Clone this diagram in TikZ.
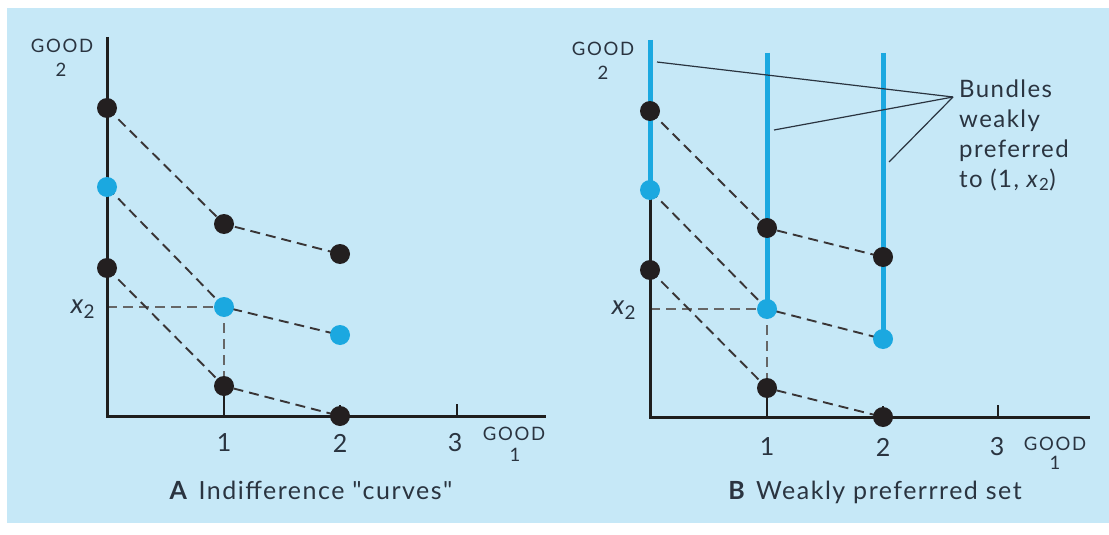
\documentclass[tikz,border=0pt]{standalone}
\usepackage{fontspec}
\setmainfont{Lato}
\newfontfamily\lsfont[LetterSpace=6]{Lato}
\newfontfamily\lsgfont[LetterSpace=9]{Lato}
\definecolor{bgblue}{HTML}{C6E8F7}
\definecolor{dotblue}{HTML}{1BA8E0}
\definecolor{dotblack}{HTML}{231F20}
\definecolor{inkdark}{HTML}{2A3440}
\definecolor{axisdark}{HTML}{1E1E1E}
\tikzset{
  bdot/.style={circle, fill=dotblack, inner sep=0pt, minimum size=20pt},
  cdot/.style={circle, fill=dotblue, inner sep=0pt, minimum size=20pt},
  axisline/.style={draw=axisdark, line width=3pt},
  tickline/.style={draw=axisdark, line width=1.3pt},
  dashline/.style={draw=dotblack!90, line width=1.9pt, dash pattern=on 10pt off 6pt},
  guideline/.style={draw=black!60, line width=1.9pt, dash pattern=on 10pt off 6pt},
  blueline/.style={draw=dotblue, line width=5pt},
  leader/.style={draw=inkdark, line width=1.2pt},
  goodlab/.style={text=inkdark, font=\lsgfont\fontsize{18.5}{18.5}\selectfont, inner sep=0pt},
  ticklab/.style={text=inkdark, font=\fontsize{25}{25}\selectfont, inner sep=0pt},
  xlab/.style={text=inkdark, font=\fontsize{27}{27}\selectfont, inner sep=0pt},
  caplab/.style={text=inkdark, font=\lsfont\fontsize{25}{25}\selectfont, inner sep=0pt},
  notelab/.style={text=inkdark, font=\lsfont\fontsize{24}{24}\selectfont, inner sep=0pt, anchor=base west},
}
\begin{document}
\begin{tikzpicture}[x=1pt, y=-1pt]
\useasboundingbox (0,0) rectangle (1109,535);
\fill[white] (0,0) rectangle (1109,535);
\fill[bgblue] (7,8) rectangle (1109,523);

% ---------------- Panel A ----------------
\coordinate (OA) at (107,416);
\coordinate (AYt) at (107,37);
\coordinate (AXe) at (546,416);
\coordinate (A0t) at (107,108);
\coordinate (A0m) at (107,187);
\coordinate (A0b) at (107,268);
\coordinate (A1t) at (224,224);
\coordinate (A1m) at (224,307);
\coordinate (A1b) at (224,386);
\coordinate (A2t) at (340,254);
\coordinate (A2m) at (340,335);
\coordinate (A2b) at (340,416);
\coordinate (A1x) at (224,416);
\coordinate (A2x) at (340,416);
\coordinate (A3x) at (457,416);
\coordinate (Ayx) at (107,307);

\draw[guideline] (Ayx) -- (A1m);
\draw[guideline] (A1m) -- (A1b);
\draw[dashline] (A0t) -- (A1t) -- (A2t);
\draw[dashline] (A0m) -- (A1m) -- (A2m);
\draw[dashline] (A0b) -- (A1b) -- (A2b);
\draw[tickline] (A1x) -- (A1b);
\draw[tickline] (A2x) -- ++(0,-11);
\draw[tickline] (A3x) -- ++(0,-12);
\draw[axisline] (AYt) -- (OA) -- (AXe);

\node[bdot] (a0t) at (A0t) {};
\node[cdot] (a0m) at (A0m) {};
\node[bdot] (a0b) at (A0b) {};
\node[bdot] (a1t) at (A1t) {};
\node[cdot] (a1m) at (A1m) {};
\node[bdot] (a1b) at (A1b) {};
\node[bdot] (a2t) at (A2t) {};
\node[cdot] (a2m) at (A2m) {};
\node[bdot] (a2b) at (A2b) {};

\node[goodlab] (agy) at (62,46) {GOOD};
\node[goodlab] (agy2) at (61,70) {2};
\node[goodlab] (agx) at (514,434) {GOOD};
\node[goodlab] (agx1) at (515,455) {1};
\node[ticklab] (at1) at (224,443) {1};
\node[ticklab] (at2) at (340,443) {2};
\node[ticklab] (at3) at (455,443) {3};
\node[xlab] (ax2) at (83,309) {\textit{x}\textsubscript{2}};
\node[caplab] (capA) at (311,490) {\textbf{A}\hspace{0.4em}Indifference \char34 curves\char34};

% ---------------- Panel B ----------------
\coordinate (OB) at (650,417);
\coordinate (BYt) at (650,40);
\coordinate (BXe) at (1090,417);
\coordinate (B0t) at (650,111);
\coordinate (B0m) at (650,190);
\coordinate (B0b) at (650,270);
\coordinate (B1t) at (767,228);
\coordinate (B1m) at (767,309);
\coordinate (B1b) at (767,388);
\coordinate (B2t) at (883,257);
\coordinate (B2m) at (883,339);
\coordinate (B2b) at (883,417);
\coordinate (B1x) at (767,417);
\coordinate (B2x) at (883,417);
\coordinate (B3x) at (998,417);
\coordinate (Byx) at (650,309);
\coordinate (B1top) at (767,53);
\coordinate (B2top) at (883,53);

\draw[guideline] (Byx) -- (B1m);
\draw[guideline] (B1m) -- (B1b);
\draw[dashline] (B0t) -- (B1t) -- (B2t);
\draw[dashline] (B0m) -- (B1m) -- (B2m);
\draw[dashline] (B0b) -- (B1b) -- (B2b);
\draw[tickline] (B1x) -- (B1b);
\draw[tickline] (B2x) -- ++(0,-11);
\draw[tickline] (B3x) -- ++(0,-12);
\draw[axisline] (B0m) -- (OB) -- (BXe);
\draw[blueline] (BYt) -- (B0m);
\draw[blueline] (B1top) -- (B1m);
\draw[blueline] (B2top) -- (B2m);

% leaders
\coordinate (LP) at (953,97);
\coordinate (L0) at (657,62);
\coordinate (L1) at (774,130);
\coordinate (L2) at (889,162);
\draw[leader] (L0) -- (LP);
\draw[leader] (L1) -- (LP);
\draw[leader] (L2) -- (LP);

\node[bdot] (b0t) at (B0t) {};
\node[cdot] (b0m) at (B0m) {};
\node[bdot] (b0b) at (B0b) {};
\node[bdot] (b1t) at (B1t) {};
\node[cdot] (b1m) at (B1m) {};
\node[bdot] (b1b) at (B1b) {};
\node[bdot] (b2t) at (B2t) {};
\node[cdot] (b2m) at (B2m) {};
\node[bdot] (b2b) at (B2b) {};

\node[goodlab] (bgy) at (603,49) {GOOD};
\node[goodlab] (bgy2) at (603,73) {2};
\node[goodlab] (bgx) at (1055,444) {GOOD};
\node[goodlab] (bgx1) at (1055,463) {1};
\node[ticklab] (bt1) at (767,447) {1};
\node[ticklab] (bt2) at (883,447) {2};
\node[ticklab] (bt3) at (997,447) {3};
\node[xlab] (bx2) at (624,310) {\textit{x}\textsubscript{2}};
\node[caplab] (capB) at (875,492) {\textbf{B}\hspace{0.4em}Weakly preferrred set};

\node[notelab] (n1) at (959,97) {Bundles};
\node[notelab] (n2) at (959,127) {weakly};
\node[notelab] (n3) at (959,157) {preferred};
\node[notelab] (n4) at (959,187) {to (1, \textit{x}\textsubscript{2})};
\end{tikzpicture}
\end{document}
